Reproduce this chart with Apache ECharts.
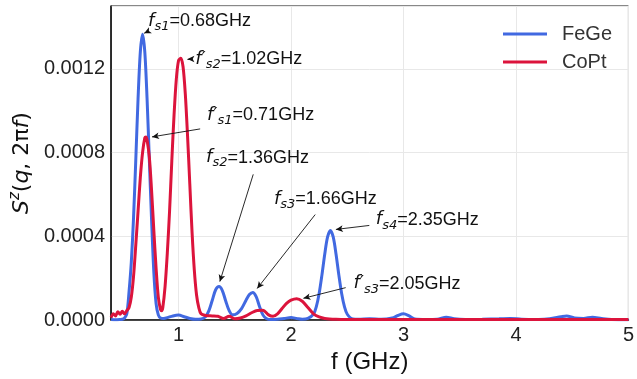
<!DOCTYPE html>
<html><head><meta charset="utf-8">
<script src="https://cdn.jsdelivr.net/npm/echarts@6/dist/echarts.min.js"></script>
<style>html,body{margin:0;padding:0;background:#fff}#c{width:637px;height:379px}</style>
</head><body><div id="c"></div>
<script>
// FeGe spectrum (frequency GHz, amplitude)
const feF = [0.40,0.44,0.48,0.50,0.52,0.54,0.56,0.58,0.60,0.62,0.64,0.66,0.68,0.70,0.72,0.74,0.76,0.78,0.80,0.82,0.84,0.87,0.90,0.95,1.00,1.05,1.10,1.15,1.20,1.24,1.27,1.30,1.33,1.36,1.39,1.42,1.45,1.48,1.52,1.56,1.60,1.63,1.66,1.69,1.72,1.75,1.78,1.82,1.88,1.94,2.00,2.05,2.10,2.15,2.20,2.225,2.25,2.275,2.30,2.325,2.35,2.375,2.40,2.425,2.45,2.475,2.50,2.55,2.60,2.70,2.80,2.90,2.95,3.00,3.05,3.10,3.20,3.30,3.38,3.45,3.55,3.70,3.85,3.95,4.05,4.20,4.30,4.40,4.45,4.52,4.60,4.68,4.76,4.85,5.00];
const feS = [0.000003,0.000002,0.000003,0.000004,0.000010,0.000030,0.000137,0.000277,0.000492,0.000769,0.001058,0.00128,0.001365,0.00128,0.001058,0.000769,0.000480,0.000230,0.000080,0.000025,0.000010,0.000008,0.000012,0.000020,0.000024,0.000016,0.000008,0.000004,0.000005,0.000016,0.000045,0.000095,0.000145,0.000160,0.000140,0.000090,0.000045,0.000025,0.000032,0.000055,0.000095,0.000122,0.000132,0.000112,0.000065,0.000025,0.000008,0.000003,0.000004,0.000008,0.000012,0.000008,0.000004,0.000008,0.000028,0.000064,0.000127,0.000216,0.000316,0.000397,0.000428,0.000397,0.000316,0.000216,0.000127,0.000064,0.000028,0.000005,0.000004,0.000007,0.000004,0.000010,0.000022,0.000030,0.000020,0.000005,0.000003,0.000004,0.000014,0.000006,0.000003,0.000004,0.000006,0.000008,0.000004,0.000003,0.000006,0.000016,0.000020,0.000010,0.000008,0.000014,0.000008,0.000003,0.000002];
// CoPt spectrum
const cpF = [0.40,0.42,0.44,0.46,0.48,0.50,0.52,0.54,0.56,0.58,0.60,0.62,0.64,0.66,0.68,0.70,0.71,0.72,0.74,0.76,0.78,0.80,0.82,0.84,0.85,0.86,0.88,0.90,0.92,0.94,0.96,0.98,1.00,1.02,1.04,1.06,1.08,1.10,1.12,1.14,1.16,1.18,1.20,1.24,1.30,1.35,1.40,1.45,1.50,1.55,1.60,1.65,1.70,1.75,1.80,1.84,1.88,1.92,1.96,2.00,2.05,2.10,2.15,2.20,2.25,2.30,2.40,2.50,2.70,3.00,3.50,4.00,4.50,5.00];
const cpS = [0.000012,0.000030,0.000020,0.000040,0.000028,0.000042,0.000030,0.000045,0.000060,0.00011,0.00021,0.00036,0.00052,0.00068,0.00080,0.00087,0.000875,0.00086,0.00078,0.00062,0.00043,0.00025,0.00011,0.00005,0.000045,0.00006,0.00016,0.00032,0.00052,0.00076,0.00098,0.00115,0.00124,0.00125,0.00121,0.00108,0.00088,0.00065,0.00042,0.00024,0.00012,0.00006,0.00003,0.000022,0.000020,0.000018,0.000008,0.000018,0.000006,0.000010,0.000020,0.000035,0.000046,0.000047,0.000025,0.000018,0.000030,0.000055,0.000080,0.000095,0.000102,0.000090,0.000060,0.000030,0.000015,0.000008,0.000004,0.000003,0.000003,0.000003,0.000003,0.000003,0.000003,0.000003];
const seriesNames = ['FeGe','CoPt'];
const xTicks = [1,2,3,4,5];
// annotations: label text, label anchor (f, S), arrow tail, arrow tip
const annText = ['{i|f}{sub|s1}=0.68GHz','{i|f}{p|′}{sub|s2}=1.02GHz','{i|f}{p|′}{sub|s1}=0.71GHz','{i|f}{sub|s2}=1.36GHz','{i|f}{sub|s3}=1.66GHz','{i|f}{sub|s4}=2.35GHz','{i|f}{p|′}{sub|s3}=2.05GHz'];
const annPos  = [[0.729,0.001426],[1.149,0.001247],[1.254,0.000979],[1.245,0.000776],[1.848,0.000576],[2.754,0.000479],[2.556,0.000174]];
const annTail = [[0.729,0.001379],[1.122,0.001247],[1.192,0.000913],[1.664,0.000696],[2.215,0.000504],[2.696,0.000452],[2.486,0.000155]];
const annTip  = [[0.694,0.00137],[1.079,0.001247],[0.764,0.000875],[1.367,0.000184],[1.699,0.000151],[2.399,0.000433],[2.110,0.000104]];

const pair = (xs, ys) => xs.map((x,i)=>[x, ys[i]]);
const richAnn = {
  i:{fontFamily:'DejaVu Sans',fontStyle:'italic',fontSize:18,lineHeight:24,color:'#111'},
  p:{fontFamily:'DejaVu Sans',fontSize:18,lineHeight:24,color:'#111'},
  sub:{fontFamily:'DejaVu Sans',fontStyle:'italic',fontSize:13,lineHeight:13,verticalAlign:'bottom',color:'#111'}
};
const chart = echarts.init(document.getElementById('c'), null, {renderer:'canvas'});
chart.setOption({
  animation:false,
  backgroundColor:'#fff',
  grid:{left:107,right:4,top:6,bottom:54,show:true,borderColor:'#111',borderWidth:1,backgroundColor:'transparent'},
  legend:{
    data:seriesNames, orient:'vertical', left:498, top:19, itemWidth:44, itemHeight:3, itemGap:8,
    textStyle:{fontFamily:'Liberation Sans',fontSize:20,color:'#333',padding:[0,0,0,10]},
    icon:'rect'
  },
  xAxis:{
    type:'value', min:0.4, max:5,
    name:'f (GHz)', nameLocation:'middle', nameGap:24,
    nameTextStyle:{fontFamily:'Liberation Sans',fontSize:24,color:'#111'},
    axisLine:{show:true,lineStyle:{color:'#111',width:1.5}},
    axisTick:{show:false,customValues:xTicks},
    axisLabel:{customValues:xTicks,fontFamily:'Liberation Sans',fontSize:20,color:'#222',margin:5},
    splitLine:{show:true,lineStyle:{color:'#e8e8e8',width:1}}
  },
  yAxis:{
    type:'value', min:0, max:0.0015, interval:0.0004,
    name:'{i|S}{sup|z}{n|(}{i|q}{n|, 2π}{i|f}{n|)}', nameLocation:'middle', nameGap:74, nameRotate:90,
    nameTextStyle:{rich:{
      i:{fontFamily:'DejaVu Sans',fontStyle:'italic',fontSize:22,lineHeight:28,color:'#111'},
      n:{fontFamily:'DejaVu Sans',fontSize:22,lineHeight:28,color:'#111'},
      sup:{fontFamily:'DejaVu Sans',fontStyle:'italic',fontSize:15,lineHeight:15,verticalAlign:'top',color:'#111'}
    }},
    axisLine:{show:true,lineStyle:{color:'#111',width:1.5}},
    axisTick:{show:false},
    axisLabel:{fontFamily:'Liberation Sans',fontSize:20,color:'#222',margin:6,showMaxLabel:false,
      formatter:v=>v.toFixed(4)},
    splitLine:{show:true,lineStyle:{color:'#e8e8e8',width:1}}
  },
  series:[
    {name:seriesNames[0],type:'line',data:pair(feF,feS),showSymbol:false,symbol:'none',smooth:0.3,
     lineStyle:{color:'#4169E1',width:3},itemStyle:{color:'#4169E1'},clip:true,z:2},
    {name:seriesNames[1],type:'line',data:pair(cpF,cpS),showSymbol:false,symbol:'none',smooth:0.3,
     lineStyle:{color:'#DC143C',width:3},itemStyle:{color:'#DC143C'},clip:true,z:3},
    {name:'annotations',type:'line',data:[],silent:true,z:5,
     markLine:{silent:true,symbol:['none','arrow'],symbolSize:[5,7],animation:false,
       lineStyle:{color:'#111',width:0.9,type:'solid'},label:{show:false},
       data:annTail.map((t,i)=>[{coord:t},{coord:annTip[i]}])},
     markPoint:{silent:true,symbol:'circle',symbolSize:0,animation:false,
       label:{show:true,position:'right',distance:0,fontFamily:'Liberation Sans',fontSize:18,color:'#111',
         align:'left',verticalAlign:'middle',rich:richAnn},
       data:annPos.map((p,i)=>({coord:p,value:0,label:{formatter:annText[i]}}))}
    }
  ]
});
</script></body></html>
